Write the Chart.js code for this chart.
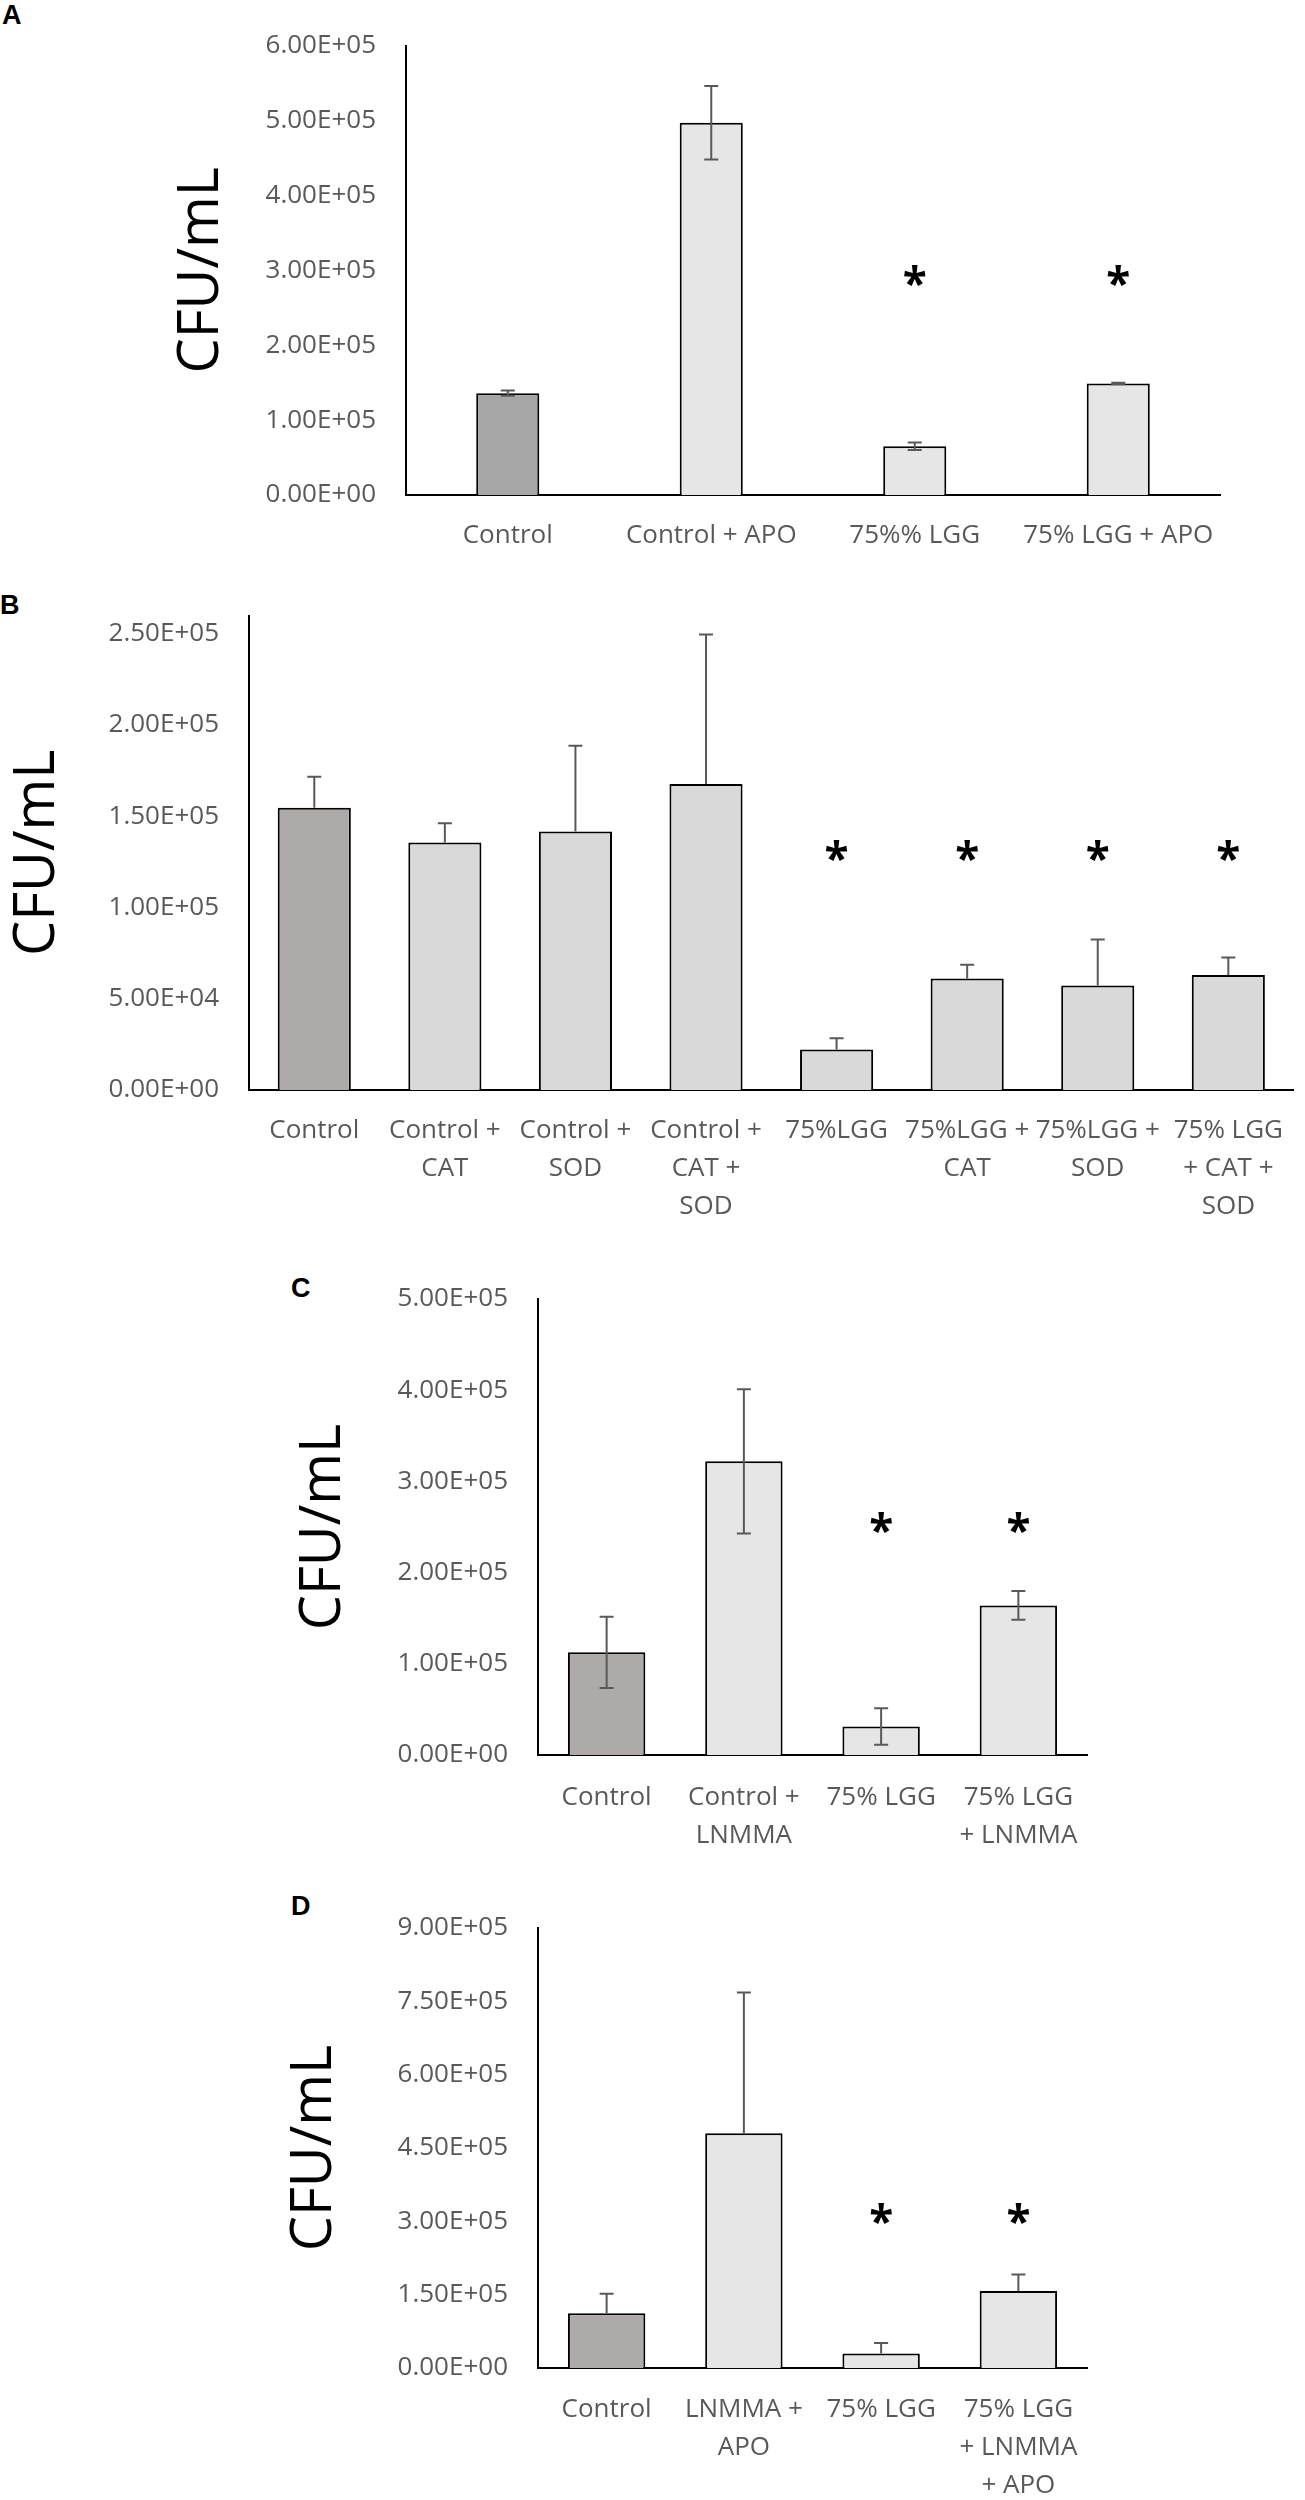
<!DOCTYPE html>
<html>
<head>
<meta charset="utf-8">
<script src="https://cdn.jsdelivr.net/npm/chart.js@4.4.1/dist/chart.umd.min.js"></script>
<style>
  body { margin: 0; background: #fff; width: 1305px; height: 2500px; position: relative; overflow: hidden; }
  .panel { position: absolute; left: 0; }
  .tag { position: absolute; font: bold 27px "Liberation Sans", Arial, sans-serif; line-height: 27px; color: #000; }
</style>
</head>
<body>
<div class="tag" style="left:2px;top:2px">A</div>
<div class="tag" style="left:0px;top:592px">B</div>
<div class="tag" style="left:291px;top:1275px">C</div>
<div class="tag" style="left:291px;top:1893px">D</div>

<div class="panel" style="top:0px"><canvas id="chartA" width="1305" height="570"></canvas></div>
<div class="panel" style="top:570px"><canvas id="chartB" width="1305" height="680"></canvas></div>
<div class="panel" style="top:1250px"><canvas id="chartC" width="1305" height="630"></canvas></div>
<div class="panel" style="top:1880px"><canvas id="chartD" width="1305" height="620"></canvas></div>

<script>
// A
const labelsA = ['Control', 'Control + APO', '75%% LGG', '75% LGG + APO'];
const meanA = [136000, 497000, 65000, 149000];
const errA = [3500, 49000, 5000, 1000];
const starA = [null, null, 293000, 293000];
const ticksA = [0, 100000, 200000, 300000, 400000, 500000, 600000];

// B
const labelsB = ['Control', ['Control +', 'CAT'], ['Control +', 'SOD'], ['Control +', 'CAT +', 'SOD'],
  '75%LGG', ['75%LGG +', 'CAT'], ['75%LGG +', 'SOD'], ['75% LGG', '+ CAT +', 'SOD']];
const meanB = [154700, 135600, 141700, 167700, 22200, 61100, 57300, 63000];
const errB = [17000, 10600, 47000, 82000, 6100, 7500, 25200, 9600];
const starB = [null, null, null, null, 131000, 131000, 131000, 131000];
const ticksB = [0, 50000, 100000, 150000, 200000, 250000];

// C
const labelsC = ['Control', ['Control +', 'LNMMA'], '75% LGG', ['75% LGG', '+ LNMMA']];
const meanC = [112600, 322000, 31300, 164000];
const errC = [39000, 79000, 20000, 15700];
const starC = [null, null, 255000, 255000];
const ticksC = [0, 100000, 200000, 300000, 400000, 500000];

// D
const labelsD = ['Control', ['LNMMA +', 'APO'], '75% LGG', ['75% LGG', '+ LNMMA', '+ APO']];
const meanD = [112000, 480000, 29600, 157600];
const errD = [40000, 288000, 21600, 33600];
const starD = [null, null, 317000, 317000];
const ticksD = [0, 150000, 300000, 450000, 600000, 750000, 900000];

// axis tops (B's axis runs a little past its last tick)
const yMaxA = 600000, yMaxB = 260000, yMaxC = 500000, yMaxD = 900000;

Chart.defaults.font.family = '"Open Sans", sans-serif';

// 6.00E+05 style labels
function sci(v) {
  if (v === 0) return '0.00E+00';
  const e = Math.floor(Math.log10(v));
  const m = v / Math.pow(10, e);
  return m.toFixed(2) + 'E+' + String(e).padStart(2, '0');
}

// error bars + asterisks, drawn off the y scale
const errorBars = {
  id: 'errorBars',
  afterDatasetsDraw(chart) {
    const { ctx } = chart;
    const y = chart.scales.y;
    const ds = chart.data.datasets[0];
    const meta = chart.getDatasetMeta(0);
    ctx.save();
    ctx.strokeStyle = '#595959';
    ctx.lineWidth = 2;
    meta.data.forEach((bar, i) => {
      const v = ds.data[i], e = ds.err[i];
      const hi = y.getPixelForValue(v + e);
      const lo = y.getPixelForValue(ds.both ? v - e : v);
      ctx.beginPath();
      ctx.moveTo(bar.x, hi); ctx.lineTo(bar.x, lo);
      ctx.moveTo(bar.x - 7, hi); ctx.lineTo(bar.x + 7, hi);
      if (ds.both) { ctx.moveTo(bar.x - 7, lo); ctx.lineTo(bar.x + 7, lo); }
      ctx.stroke();
    });
    ctx.fillStyle = '#000';
    ctx.font = 'bold 44px "Open Sans"';
    ctx.textAlign = 'center';
    ctx.textBaseline = 'alphabetic';
    const m = ctx.measureText('*');
    ds.stars.forEach((s, i) => {
      if (s == null) return;
      const yy = y.getPixelForValue(s);
      ctx.fillText('*', meta.data[i].x, yy + (m.actualBoundingBoxAscent - m.actualBoundingBoxDescent) / 2);
    });
    ctx.restore();
  }
};

function makeChart(id, labels, values, err, stars, both, colors, yMax, tickVals, box) {
  return new Chart(document.getElementById(id), {
    type: 'bar',
    data: {
      labels: labels,
      datasets: [{
        data: values,
        err: err,
        stars: stars,
        both: both,
        backgroundColor: colors,
        borderColor: '#000',
        borderWidth: 2,
        borderSkipped: 'start',
        categoryPercentage: 1,
        barPercentage: box.barPct
      }]
    },
    options: {
      responsive: false,
      animation: false,
      layout: { padding: { top: box.top, right: box.right, left: 0, bottom: 0 } },
      plugins: { legend: { display: false }, tooltip: { enabled: false } },
      scales: {
        x: {
          grid: { display: false, drawTicks: false },
          border: { display: true, color: '#000', width: 2 },
          ticks: {
            color: '#595959', padding: box.xPad, maxRotation: 0, autoSkip: false,
            font: { size: 26, lineHeight: 1.45 }
          },
          afterFit: s => { s.height = box.xH; }
        },
        y: {
          min: 0, max: yMax,
          grid: { display: false, drawTicks: false },
          border: { display: true, color: '#000', width: 2 },
          ticks: { autoSkip: false, padding: 30, color: '#595959', font: { size: 26 }, callback: v => sci(v) },
          afterBuildTicks: s => { s.ticks = tickVals.map(v => ({ value: v })); },
          title: {
            display: true, text: 'CFU/mL', color: '#000',
            font: { size: 56, lineHeight: 1.2 },
            padding: { top: box.titlePad, bottom: 0 }
          },
          afterFit: s => { s.width = box.axisX; }
        }
      }
    },
    plugins: [errorBars]
  });
}

makeChart('chartA', labelsA, meanA, errA, starA, true,
  ['#a6a6a6', '#e7e6e6', '#e7e6e6', '#e7e6e6'], yMaxA, ticksA,
  { top: 26, right: 85, axisX: 406, xH: 75, xPad: 22, barPct: 0.31, titlePad: 168 });

makeChart('chartB', labelsB, meanB, errB, starB, false,
  ['#aeaaaa', '#d9d9d9', '#d9d9d9', '#d9d9d9', '#d9d9d9', '#d9d9d9', '#d9d9d9', '#d9d9d9'], yMaxB, ticksB,
  { top: 23, right: 0, axisX: 249, xH: 160, xPad: 22, barPct: 0.56, titlePad: 4 });

makeChart('chartC', labelsC, meanC, errC, starC, true,
  ['#aeaaaa', '#e7e6e6', '#e7e6e6', '#e7e6e6'], yMaxC, ticksC,
  { top: 49, right: 218, axisX: 538, xH: 125, xPad: 24, barPct: 0.564, titlePad: 290 });

makeChart('chartD', labelsD, meanD, errD, starD, false,
  ['#aeaaaa', '#e7e6e6', '#e7e6e6', '#e7e6e6'], yMaxD, ticksD,
  { top: 48, right: 218, axisX: 538, xH: 132, xPad: 23, barPct: 0.564, titlePad: 281 });
</script>
</body>
</html>
